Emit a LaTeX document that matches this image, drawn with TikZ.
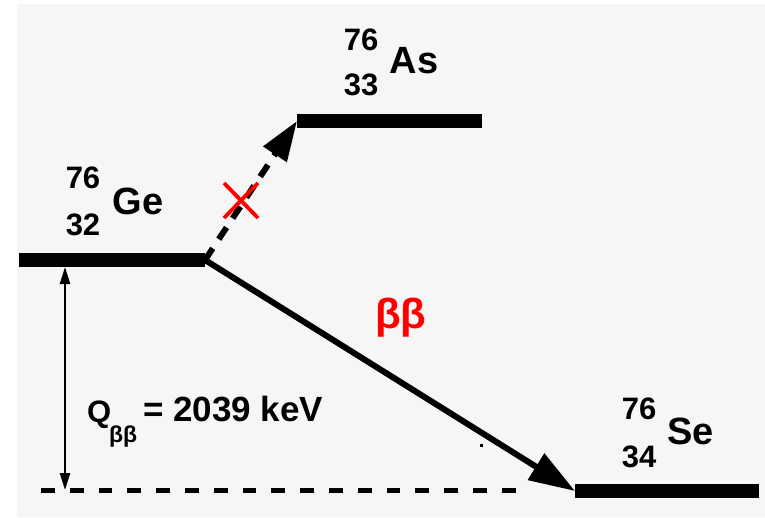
\documentclass[tikz,border=0pt]{standalone}
\usepackage{fontspec}
\setmainfont{Liberation Sans}
\usetikzlibrary{arrows.meta}
\definecolor{bg}{HTML}{F6F6F6}
\begin{document}
\begin{tikzpicture}[x=1pt,y=-1pt,
  level/.style={fill=black, draw=none, inner sep=0pt, outer sep=0pt, minimum width=#1, minimum height=14pt},
  mass/.style={font=\fontsize{31}{31}\selectfont\bfseries, inner sep=0pt},
  elem/.style={font=\fontsize{38}{38}\selectfont\bfseries, inner sep=0pt},
  decay/.style={line width=6pt, -{Triangle[length=46pt,width=30pt]}},
  forbidden/.style={line width=6pt, dash pattern=on 14pt off 11pt, -{Triangle[length=40pt,width=27pt]}},
  qarrow/.style={line width=2.5pt, {Triangle[length=17pt,width=10pt]}-{Triangle[length=17pt,width=10pt]}},
  baseline dash/.style={line width=5pt, dash pattern=on 13.8pt off 15pt},
]
\useasboundingbox (0,0) rectangle (765,517);
\fill[white] (0,0) rectangle (765,517);
\fill[bg] (17,4) rectangle (765,517);

% levels
\node[level=186pt] (ge) at (112,260) {};
\node[level=185pt] (as) at (389.5,121) {};
\node[level=184pt] (se) at (667,491) {};

% labels
\node[mass] (ge76) at (83,178) {76};
\node[mass] (ge32) at (83,224.5) {32};
\node[elem] (gesym) at (138,201) {Ge};
\node[mass] (as76) at (361,40) {76};
\node[mass] (as33) at (361,85) {33};
\node[elem] (assym) at (414,61) {As};
\node[mass] (se76) at (639,409) {76};
\node[mass] (se34) at (639,456.5) {34};
\node[elem] (sesym) at (690.5,431) {Se};

% transitions
\draw[decay] (ge.east) -- (se.west);
\draw[forbidden] (ge.east) -- (as.west);
\coordinate (xmark) at (241,200.5);
\draw[red, line width=3.8pt] (xmark) ++(-17,-17.5) -- ++(34,35)
                             (xmark) ++(17,-17.5) -- ++(-34,35);
\node[red, font=\fontsize{42}{42}\selectfont\bfseries, inner sep=0pt] (bb) at (401,317.5) {ββ};

% Q value
\coordinate (d1) at (41,490);
\coordinate (d2) at (516,490);
\draw[baseline dash] (d1) -- (d2);
\coordinate (qtop) at (65,267);
\coordinate (qbot) at (65,490);
\draw[qarrow] (qtop) -- (qbot);
\node[font=\fontsize{31}{31}\selectfont\bfseries, anchor=base west, inner sep=0pt] (q) at (87,422) {Q};
\node[font=\fontsize{23}{23}\selectfont\bfseries, anchor=base west, inner sep=0pt] (qsub) at (109,442) {ββ};
\node[font=\fontsize{35}{35}\selectfont\bfseries, anchor=base west, inner sep=0pt] (qval) at (143,421) {= 2039 keV};

% stray dot
\fill (480,444) rectangle (483,447);
\end{tikzpicture}
\end{document}
